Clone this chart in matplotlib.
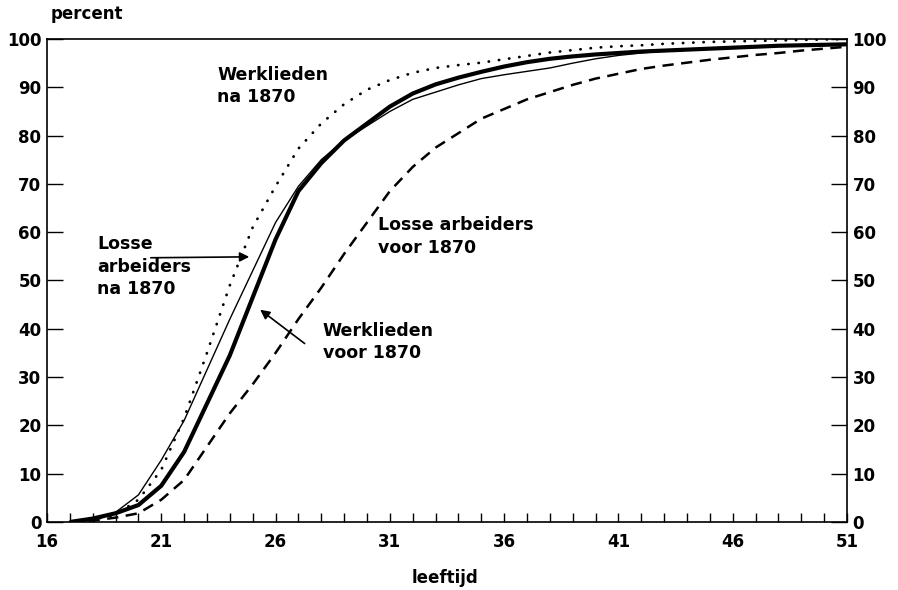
import numpy as np
import matplotlib
matplotlib.use("Agg")
import matplotlib.pyplot as plt

# leeftijd (age) 17..51
ages = np.arange(17, 52)

# Werklieden voor 1870 (thick solid)
werk_voor = [0, 0.7, 1.8, 3.5, 7.5, 14.5, 24.5, 34.5, 46.5, 58.5, 68.5, 74.3, 79, 82.5, 86,
             88.7, 90.6, 92, 93.2, 94.3, 95.2, 95.9, 96.4, 96.8, 97.1, 97.4, 97.6, 97.8,
             98, 98.2, 98.4, 98.6, 98.7, 98.8, 98.9]
# Losse arbeiders na 1870 (thin solid)
losse_na = [0, 0.7, 2, 5.6, 12.8, 21, 31.5, 42, 52, 62, 69.5, 75, 79, 82, 85,
            87.5, 89, 90.5, 91.8, 92.6, 93.3, 94, 95, 95.9, 96.6, 97.1, 97.5, 97.8,
            98, 98.2, 98.4, 98.6, 98.7, 98.8, 98.9]
# Werklieden na 1870 (dotted)
werk_na = [0, 0.5, 1.5, 4.6, 10.8, 21.5, 35, 49, 61, 69.5, 77.3, 82.5, 86.5, 89.5, 91.5,
           93, 94, 94.6, 95.1, 95.8, 96.5, 97.2, 97.7, 98.2, 98.5, 98.7, 99, 99.2,
           99.4, 99.5, 99.6, 99.7, 99.8, 99.9, 100]
# Losse arbeiders voor 1870 (dashed)
losse_voor = [0, 0.3, 0.9, 1.8, 4.6, 8.7, 15.6, 22.5, 28.5, 35, 42, 48.5, 55.5, 62, 68.5,
              73.5, 77.5, 80.5, 83.5, 85.5, 87.5, 89, 90.5, 91.8, 92.8, 93.8, 94.5, 95.1,
              95.7, 96.2, 96.7, 97.1, 97.6, 98, 98.4]

xticks = [16, 21, 26, 31, 36, 41, 46, 51]
yticks = [0, 10, 20, 30, 40, 50, 60, 70, 80, 90, 100]

plt.rcParams['font.family'] = 'DejaVu Sans'
plt.rcParams['font.weight'] = 'bold'

fig = plt.figure(figsize=(8.98, 5.90), dpi=100)
ax = fig.add_axes([0.0523, 0.1153, 0.8909, 0.8186])

ax.plot(ages, werk_voor, color='black', lw=3.0, solid_capstyle='butt')
ax.plot(ages, losse_na, color='black', lw=1.0)
ax.plot(ages, werk_na, color='black', lw=2.0, linestyle=(0, (0.1, 3.6)),
        dash_capstyle='round')
ax.plot(ages, losse_voor, color='black', lw=1.8, linestyle=(0, (4.5, 3)))

ax.set_xlim(16, 51)
ax.set_ylim(0, 100)
ax.set_xticks(xticks)
ax.set_xticks(np.arange(16, 52), minor=True)
ax.set_yticks(yticks)

for s in ax.spines.values():
    s.set_linewidth(1.2)

ax.tick_params(axis='x', which='both', direction='in', length=6.5, width=1,
               labelsize=12, pad=8)
ax.tick_params(axis='y', direction='in', length=11.5, width=1, labelsize=12,
               left=True, right=True, labelleft=True, labelright=True, pad=4)
for lab in ax.get_xticklabels() + ax.get_yticklabels():
    lab.set_fontweight('bold')

# labels
fig.text(0.056, 0.976, 'percent', fontsize=12, fontweight='bold', va='center', ha='left')
fig.text(0.4955, 0.02, 'leeftijd', fontsize=12, fontweight='bold', va='center', ha='center')

tk = dict(fontsize=12.5, fontweight='bold', va='top', ha='left', linespacing=1.35)
ax.text(23.44, 94.5, 'Werklieden\nna 1870', **tk)
ax.text(18.19, 59.5, 'Losse\narbeiders\nna 1870', **tk)
ax.text(30.48, 63.3, 'Losse arbeiders\nvoor 1870', **tk)
ax.text(28.07, 41.5, 'Werklieden\nvoor 1870', **tk)

arrow = dict(arrowstyle='-|>', color='black', lw=1.2, mutation_scale=14)
ax.annotate('', xy=(24.97, 54.9), xytext=(20.42, 54.7), arrowprops=arrow)
ax.annotate('', xy=(25.23, 44.3), xytext=(27.37, 36.6), arrowprops=arrow)

fig.savefig('out.png', dpi=100)
